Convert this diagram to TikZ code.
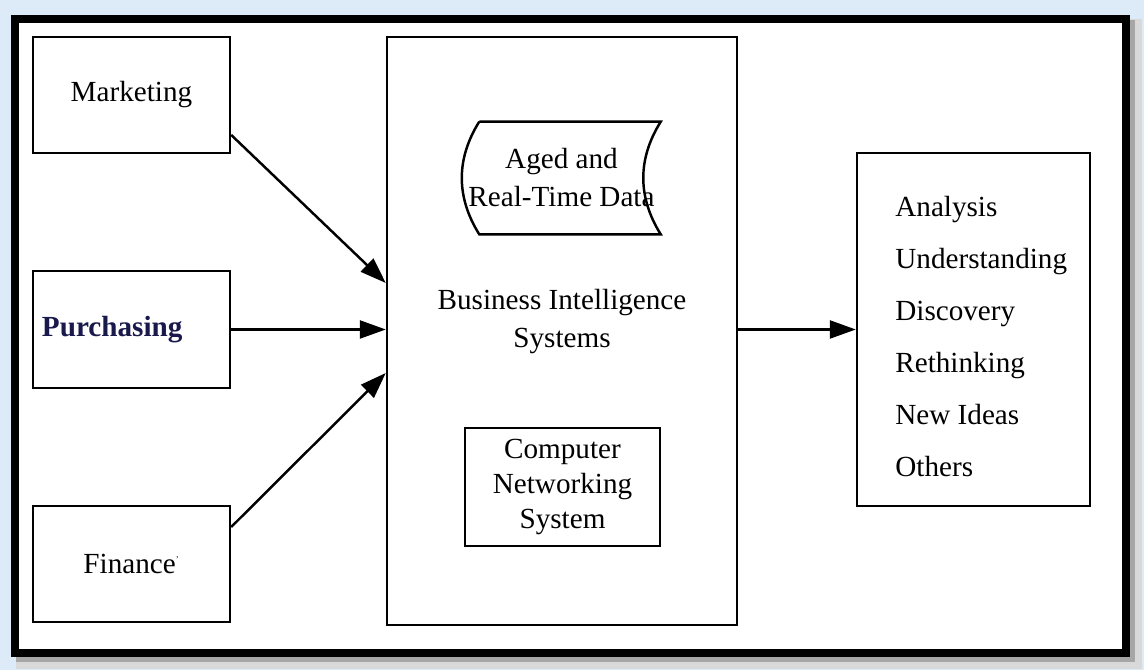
\documentclass[tikz,border=0pt]{standalone}
\usepackage{fontspec}
\setmainfont{Liberation Serif}
\usetikzlibrary{arrows.meta}
\definecolor{pagebg}{RGB}{221,235,248}
\definecolor{navyink}{RGB}{25,25,75}
\newcommand{\diafont}{\fontsize{16.6}{21.6}\selectfont}
\tikzset{
  unit/.style={draw, line width=1.4pt, minimum width=3.94cm, minimum height=2.32cm, font=\diafont},
  flow/.style={line width=1.4pt, -{Triangle[length=0.52cm,width=0.36cm]}}
}
\begin{document}
\begin{tikzpicture}
\useasboundingbox (0,0) rectangle (22.88,13.4);
% page and frame
\fill[pagebg] (0,0) rectangle (22.88,13.4);
\draw[gray!30, line width=0.3cm] (0.46,0.17) rectangle (22.68,12.86);
\draw[gray!70, line width=0.14cm] (0.40,0.23) rectangle (22.62,12.92);
\draw[fill=white, line width=0.16cm] (0.30,0.33) rectangle (22.52,13.02);

% departments
\node[unit] (mkt) at (2.63,11.5) {Marketing};
\node[unit, minimum height=2.34cm, text width=3.58cm, inner xsep=0.18cm, align=left, font=\diafont\bfseries, text=navyink] (pur) at (2.63,6.81) {Purchasing};
\node[unit] (fin) at (2.63,2.12) {Finance\textsuperscript{\tiny'}};

% BI system
\node[draw, line width=1.4pt, minimum width=7cm, minimum height=11.76cm] (bis) at (11.24,6.78) {};
\node[align=center, font=\diafont] (bislabel) at (11.24,6.96) {Business Intelligence\\Systems};
\node[align=center, minimum width=3.86cm, minimum height=2.24cm, font=\diafont] (data) at (11.23,9.84) {Aged and\\Real-Time Data};
\draw[line width=1.4pt] ([xshift=0.34cm]data.north west) -- (data.north east)
  to[bend right=32] (data.south east) -- ([xshift=0.34cm]data.south west)
  to[bend left=32] ([xshift=0.34cm]data.north west);
\node[draw, line width=1.4pt, minimum width=3.9cm, minimum height=2.36cm, align=center, font=\fontsize{16.6}{20}\selectfont] (cns) at (11.25,3.66) {Computer\\Networking\\System};

% results
\node[draw, line width=1.4pt, minimum width=4.66cm, minimum height=7.06cm] (out) at (19.47,6.81) {};
\node[anchor=west, inner sep=0pt, align=left, font=\fontsize{16.6}{29.6}\selectfont] (outlist) at (17.9,6.67) {Analysis\\Understanding\\Discovery\\Rethinking\\New Ideas\\Others};

% arrows
\draw[flow] ([yshift=-0.8cm]mkt.east) -- ([yshift=0.96cm]bis.west);
\draw[flow] (pur.east) -- (pur.east -| bis.west);
\draw[flow] ([yshift=0.74cm]fin.east) -- ([yshift=-0.84cm]bis.west);
\draw[flow] (bis.east |- out.west) -- (out.west);
\end{tikzpicture}
\end{document}
